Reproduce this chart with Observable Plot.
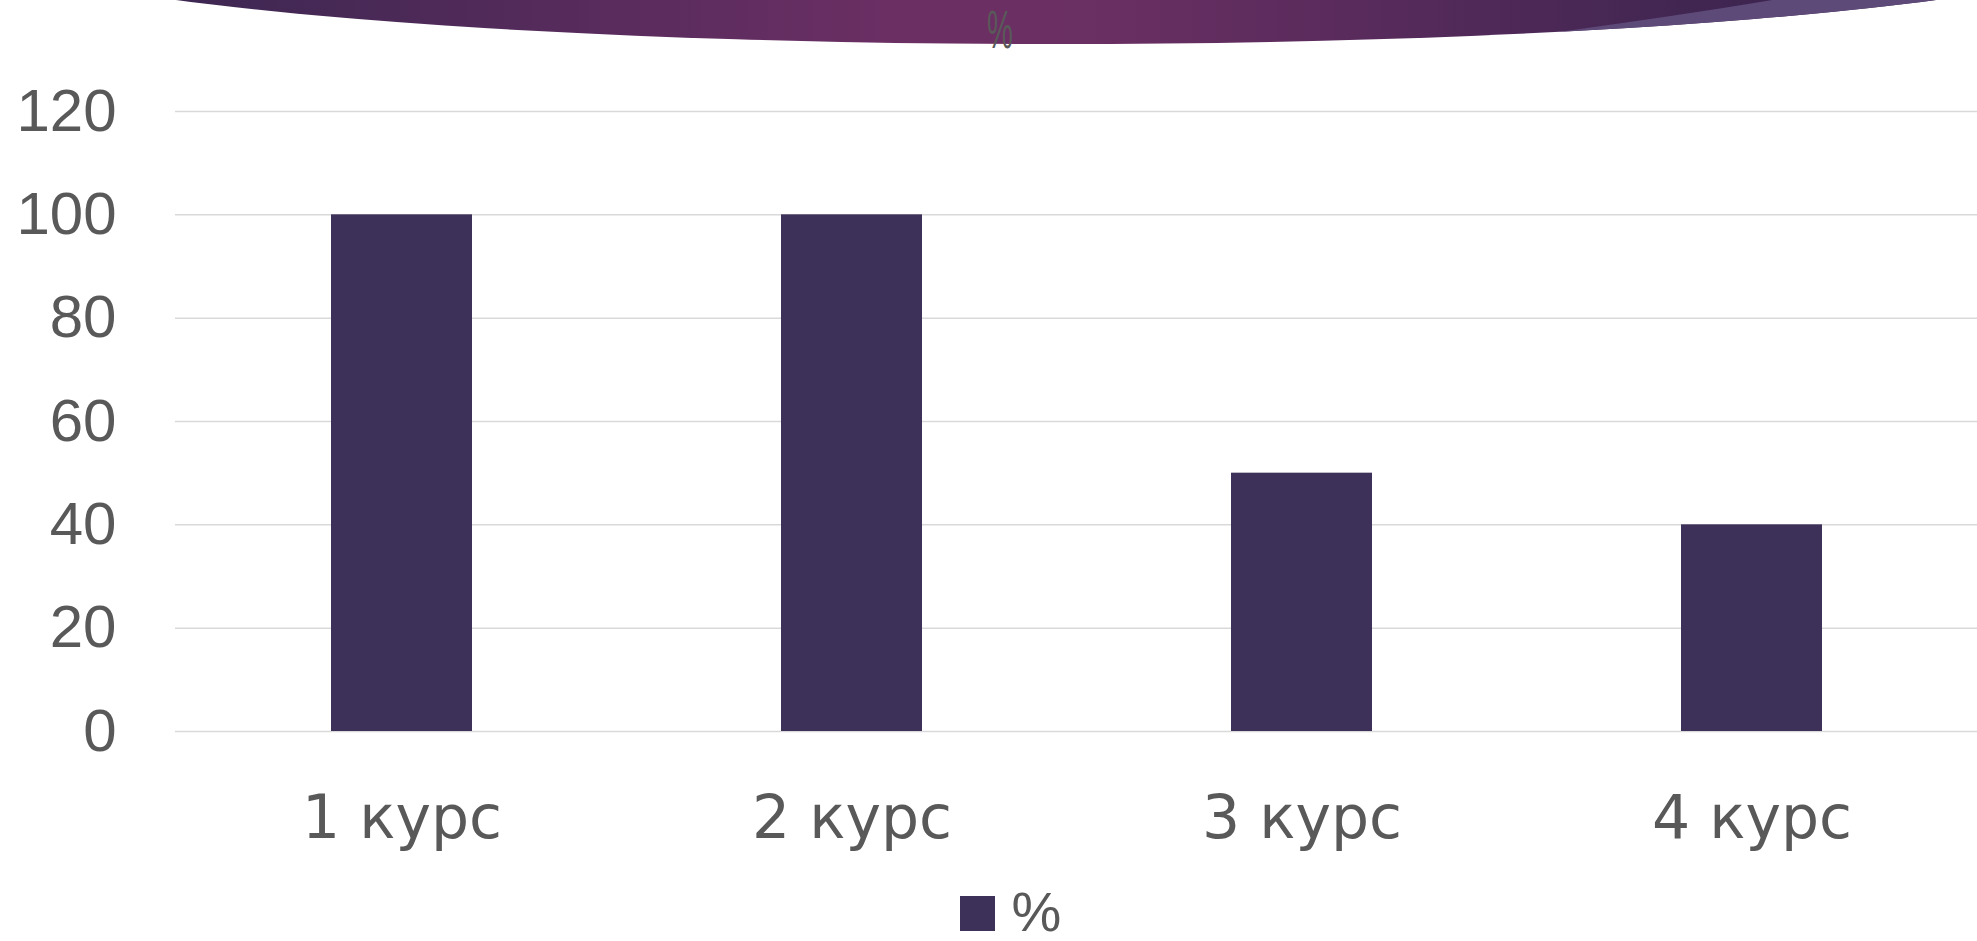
<!DOCTYPE html>
<html>
<head>
<meta charset="utf-8">
<script src="https://cdn.jsdelivr.net/npm/d3@7"></script>
<script src="https://cdn.jsdelivr.net/npm/@observablehq/plot@0.6"></script>
<style>
  html, body { margin: 0; padding: 0; background: #fff; }
  body { width: 1977px; height: 941px; overflow: hidden; font-family: "Liberation Sans", "DejaVu Sans", sans-serif; }
  #header { height: 60px; position: relative; }
  #header svg { display: block; }
  #chart svg { display: block; }
  #legend { height: 61px; display: flex; justify-content: center; align-items: center; padding-top: 2px; box-sizing: border-box; color: #595959; font-size: 56px; line-height: 1; }
  #legend .sw { width: 35px; height: 35px; background: #3d3159; margin-right: 17px; margin-left: 44px; margin-top: 4px; }
</style>
</head>
<body>
<div id="header">
  <svg width="1977" height="60" viewBox="0 0 1977 60">
    <defs>
      <linearGradient id="g" gradientUnits="userSpaceOnUse" x1="176" y1="0" x2="1935" y2="0">
        <stop offset="0" stop-color="#3d2752"/>
        <stop offset="0.42" stop-color="#6c2f64"/>
        <stop offset="0.52" stop-color="#6a2f63"/>
        <stop offset="0.9" stop-color="#3d2550"/>
        <stop offset="1" stop-color="#3d2550"/>
      </linearGradient>
      <clipPath id="c"><ellipse cx="1056" cy="-66" rx="1100" ry="110"/></clipPath>
    </defs>
    <ellipse cx="1056" cy="-66" rx="1100" ry="110" fill="url(#g)"/>
    <path clip-path="url(#c)" d="M1500,60 L1551,33 Q1690,14 1778,-1 L1977,-1 L1977,60 Z" fill="#5e4a78"/>
    <text x="1000" y="48" text-anchor="middle" fill="#595959" font-size="53" font-family="Liberation Sans, sans-serif" transform="translate(1000,0) scale(0.55,1) translate(-1000,0)">%</text>
  </svg>
</div>
<div id="chart"></div>
<div id="legend"><div class="sw"></div><span>%</span></div>
<script>
const categories = ["1 курс", "2 курс", "3 курс", "4 курс"];
const values = [100, 100, 50, 40];
const yTicks = [0, 20, 40, 60, 80, 100, 120];
const seriesName = "%";

const data = categories.map((c, i) => ({course: c, value: values[i]}));

const chart = Plot.plot({
  width: 1977,
  height: 820,
  marginLeft: 175,
  marginRight: 0,
  marginTop: 51,
  marginBottom: 149,
  style: {fontFamily: "Liberation Sans, DejaVu Sans, sans-serif", color: "#595959", background: "#fff"},
  x: {domain: categories, paddingInner: 0.687, paddingOuter: 0.3435, label: null},
  y: {domain: [0, 120], label: null},
  marks: [
    Plot.gridY(yTicks, {stroke: "#d9d9d9", strokeOpacity: 1, strokeWidth: 1.5}),
    Plot.barY(data, {x: "course", y: "value", fill: "#3d3159"}),
    Plot.axisX({tickSize: 0, tickPadding: 64, fontSize: 60, fontFamily: "DejaVu Sans, sans-serif", fill: "#595959", label: null}),
    Plot.axisY(yTicks, {tickSize: 0, tickPadding: 59, fontSize: 60, fill: "#595959", label: null})
  ]
});
document.getElementById("chart").appendChild(chart);
</script>
</body>
</html>
